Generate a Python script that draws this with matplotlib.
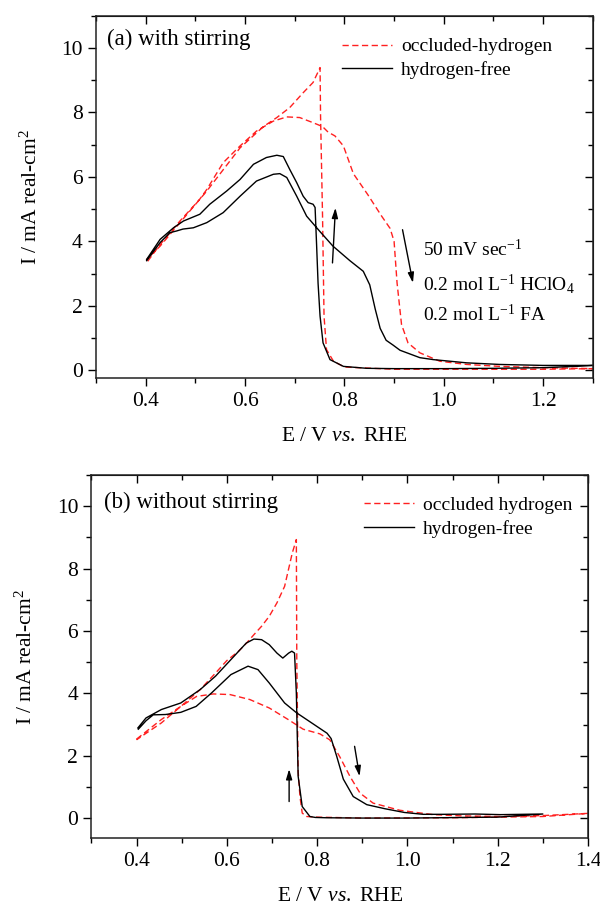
import matplotlib
matplotlib.use("Agg")
import matplotlib.pyplot as plt
from matplotlib.ticker import MultipleLocator, FormatStrFormatter

plt.rcParams['font.family'] = ['Liberation Serif', 'DejaVu Serif']
plt.rcParams['mathtext.fontset'] = 'custom'
plt.rcParams['mathtext.rm'] = 'Liberation Serif'
plt.rcParams['mathtext.it'] = 'Liberation Serif:italic'

# ---------------- Panel (a): with stirring ----------------
a_free_E = [0.402, 0.429, 0.449, 0.462, 0.475, 0.496, 0.523, 0.556, 0.59, 0.623, 0.657, 0.67, 0.684,
            0.704, 0.724, 0.751, 0.777, 0.811, 0.838, 0.851, 0.862, 0.872, 0.884, 0.898, 0.912, 0.952,
            0.979, 1.046, 1.113, 1.2, 1.3,
            1.25, 1.2, 1.1, 1.0, 0.9, 0.845, 0.798, 0.771, 0.757, 0.751, 0.747, 0.744, 0.741, 0.737,
            0.727, 0.717, 0.704, 0.69, 0.677, 0.664, 0.643, 0.617, 0.59, 0.563, 0.529, 0.509, 0.476,
            0.456, 0.429, 0.402]
a_free_I = [3.40, 3.96, 4.27, 4.32, 4.38, 4.42, 4.58, 4.89, 5.40, 5.87, 6.08, 6.10, 5.98,
            5.40, 4.78, 4.30, 3.85, 3.40, 3.07, 2.65, 1.90, 1.30, 0.93, 0.78, 0.62, 0.39,
            0.33, 0.23, 0.18, 0.15, 0.15,
            0.11, 0.08, 0.06, 0.05, 0.05, 0.06, 0.12, 0.33, 0.85, 1.68, 2.70, 3.90, 5.05, 5.15,
            5.20, 5.40, 5.82, 6.23, 6.63, 6.67, 6.60, 6.39, 5.92, 5.56, 5.15, 4.84, 4.63,
            4.42, 4.06, 3.44]

a_occ_E = [0.404, 0.429, 0.469, 0.508, 0.523, 0.556, 0.59, 0.623, 0.657, 0.684, 0.71, 0.737, 0.756,
           0.767, 0.781, 0.798, 0.818, 0.847, 0.875, 0.892, 0.900, 0.906, 0.915, 0.928, 0.952, 0.992,
           1.046, 1.113, 1.2, 1.3,
           1.2, 1.0, 0.9, 0.8, 0.778, 0.764, 0.759, 0.756, 0.752, 0.751, 0.737, 0.717, 0.69, 0.664,
           0.637, 0.59, 0.523, 0.469, 0.429, 0.402]
a_occ_I = [3.38, 3.90, 4.63, 5.29, 5.61, 6.44, 6.96, 7.42, 7.73, 7.86, 7.84, 7.68, 7.56,
           7.39, 7.27, 6.96, 6.10, 5.45, 4.78, 4.40, 4.00, 2.71, 1.42, 0.85, 0.54, 0.28,
           0.18, 0.12, 0.08, 0.05,
           0.03, 0.03, 0.03, 0.10, 0.28, 0.64, 1.68, 4.78, 7.89, 9.39, 8.93, 8.61, 8.15, 7.84,
           7.56, 6.90, 5.56, 4.58, 3.85, 3.44]

# ---------------- Panel (b): without stirring ----------------
b_free_E = [0.404, 0.421, 0.437, 0.464, 0.498, 0.532, 0.566, 0.609, 0.647, 0.669, 0.694, 0.728, 0.754,
            0.788, 0.822, 0.831, 0.843, 0.858, 0.88, 0.91, 0.95, 0.993, 1.035, 1.078, 1.15, 1.206, 1.3,
            1.2, 1.0, 0.9, 0.82, 0.796, 0.784, 0.767, 0.758, 0.754, 0.75, 0.744, 0.737, 0.724, 0.711,
            0.694, 0.677, 0.66, 0.643, 0.609, 0.575, 0.541, 0.498, 0.455, 0.421, 0.403]
b_free_I = [2.85, 3.12, 3.31, 3.32, 3.39, 3.58, 4.01, 4.60, 4.87, 4.76, 4.33, 3.69, 3.38,
            3.05, 2.72, 2.55, 2.00, 1.25, 0.69, 0.43, 0.30, 0.18, 0.12, 0.12, 0.13, 0.11, 0.13,
            0.03, 0.00, 0.00, 0.01, 0.02, 0.05, 0.37, 1.34, 4.00, 5.29, 5.35, 5.29, 5.13, 5.29,
            5.56, 5.72, 5.74, 5.61, 5.08, 4.55, 4.12, 3.69, 3.48, 3.21, 2.89]

b_occ_E = [0.4, 0.455, 0.498, 0.533, 0.57, 0.607, 0.651, 0.694, 0.737, 0.769, 0.806, 0.828, 0.85,
           0.873, 0.895, 0.924, 0.983, 1.057, 1.12, 1.206, 1.3, 1.4,
           1.3, 1.1, 0.9, 0.8, 0.777, 0.767, 0.762, 0.758, 0.755, 0.754, 0.745, 0.728, 0.711, 0.694,
           0.677, 0.66, 0.643, 0.626, 0.6, 0.575, 0.541, 0.507, 0.455, 0.4]
b_occ_I = [2.53, 3.16, 3.58, 3.90, 3.98, 3.96, 3.80, 3.53, 3.15, 2.85, 2.70, 2.51, 1.97,
           1.33, 0.80, 0.48, 0.25, 0.11, 0.07, 0.05, 0.08, 0.15,
           0.05, 0.01, 0.00, 0.03, 0.05, 0.16, 0.69, 1.50, 5.00, 8.93, 8.50, 7.43, 6.90, 6.47,
           6.15, 5.88, 5.60, 5.35, 5.05, 4.65, 4.12, 3.69, 3.05, 2.51]

panel_a_title = "(a) with stirring"
panel_b_title = "(b) without stirring"
a_labels = ["occluded-hydrogen", "hydrogen-free"]
b_labels = ["occluded hydrogen", "hydrogen-free"]
conditions = ["50 mV sec$^{-1}$", "0.2 mol L$^{-1}$ HClO$_4$", "0.2 mol L$^{-1}$ FA"]
xlabel = "E / V $\\mathit{vs.}$ RHE"
ylabel = "I / mA real-cm$^{2}$"

RED = "#ff2020"
TICK_FS = 15.5
LAB_FS = 15.5
TXT_FS = 14
TITLE_FS = 16.5

fig = plt.figure(figsize=(6.0, 9.07), dpi=100)
ax1 = fig.add_axes([0.160, 0.5829, 0.828, 0.3998])
ax2 = fig.add_axes([0.1523, 0.0757, 0.8277, 0.4006])


def style_axis(ax, xlim, ylim, xticks):
    ax.set_xlim(*xlim)
    ax.set_ylim(*ylim)
    ax.set_xticks(xticks)
    ax.xaxis.set_minor_locator(MultipleLocator(0.1))
    ax.set_yticks([0, 2, 4, 6, 8, 10])
    ax.yaxis.set_minor_locator(MultipleLocator(1))
    ax.xaxis.set_major_formatter(FormatStrFormatter('%.1f'))
    ax.yaxis.set_major_formatter(FormatStrFormatter('%d'))
    ax.tick_params(which='both', direction='out', labelsize=TICK_FS, width=1.0)
    ax.tick_params(which='major', length=6)
    ax.tick_params(which='minor', length=3.5)
    for s in ax.spines.values():
        s.set_linewidth(1.1)
        s.set_color('#222222')
    top = ax.secondary_xaxis('top')
    top.set_xticks(xticks)
    top.xaxis.set_minor_locator(MultipleLocator(0.1))
    top.tick_params(which='both', direction='in', labeltop=False, width=1.0)
    top.tick_params(which='major', length=6)
    top.tick_params(which='minor', length=3.5)
    right = ax.secondary_yaxis('right')
    right.set_yticks([0, 2, 4, 6, 8, 10])
    right.yaxis.set_minor_locator(MultipleLocator(1))
    right.tick_params(which='both', direction='in', labelright=False, width=1.0)
    right.tick_params(which='major', length=6)
    right.tick_params(which='minor', length=3.5)
    ax.set_xlabel(xlabel, fontsize=LAB_FS, labelpad=12)
    ax.set_ylabel(ylabel, fontsize=LAB_FS, labelpad=14)


def arrow(ax, x0, y0, x1, y1):
    ax.annotate("", xy=(x1, y1), xytext=(x0, y0),
                arrowprops=dict(arrowstyle='-|>,head_length=0.6,head_width=0.18',
                                color='black', lw=1.0, shrinkA=0, shrinkB=0))


# Panel (a)
l1, = ax1.plot(a_occ_E, a_occ_I, color=RED, lw=1.0, ls=(0, (4.5, 2.5)))
l2, = ax1.plot(a_free_E, a_free_I, color='black', lw=1.0)
style_axis(ax1, (0.3, 1.3), (-0.25, 11), [0.4, 0.6, 0.8, 1.0, 1.2])
ax1.text(0.322, 10.26, panel_a_title, fontsize=TITLE_FS, va='center', ha='left')
ax1.legend([l1, l2], a_labels, loc='center left', bbox_to_anchor=(0.495, 0.882),
           frameon=False, fontsize=TXT_FS, handlelength=2.6, handletextpad=0.45,
           labelspacing=0.3, borderpad=0, borderaxespad=0)
for txt, yv in zip(conditions, [3.74, 2.66, 1.73]):
    ax1.text(0.959, yv, txt, fontsize=TXT_FS, va='center', ha='left')
arrow(ax1, 0.776, 3.33, 0.782, 5.04)
arrow(ax1, 0.917, 4.36, 0.938, 2.71)

# Panel (b)
m1, = ax2.plot(b_occ_E, b_occ_I, color=RED, lw=1.0, ls=(0, (4.5, 2.5)))
m2, = ax2.plot(b_free_E, b_free_I, color='black', lw=1.0)
style_axis(ax2, (0.3, 1.4), (-0.65, 11), [0.4, 0.6, 0.8, 1.0, 1.2, 1.4])
ax2.text(0.329, 10.13, panel_b_title, fontsize=TITLE_FS, va='center', ha='left')
ax2.legend([m1, m2], b_labels, loc='center left', bbox_to_anchor=(0.548, 0.884),
           frameon=False, fontsize=TXT_FS, handlelength=2.6, handletextpad=0.45,
           labelspacing=0.3, borderpad=0, borderaxespad=0)
arrow(ax2, 0.738, 0.53, 0.738, 1.57)
arrow(ax2, 0.883, 2.30, 0.894, 1.34)

fig.savefig("out.png", dpi=100)
